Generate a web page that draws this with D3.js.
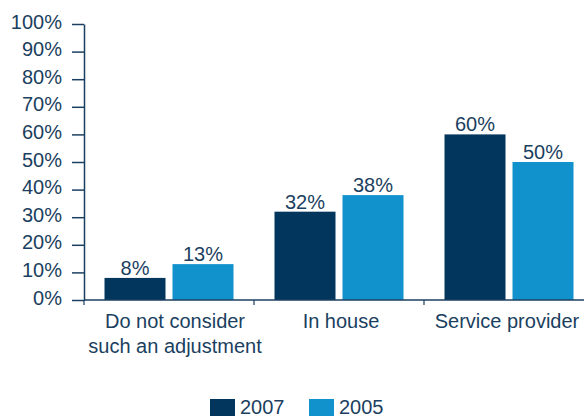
<!DOCTYPE html>
<html>
<head>
<meta charset="utf-8">
<script src="https://cdn.jsdelivr.net/npm/d3@7"></script>
<style>
  html, body { margin: 0; padding: 0; background: #fff; }
  svg { display: block; font-family: "Liberation Sans", Arial, Helvetica, sans-serif; }
</style>
</head>
<body>
<svg id="chart" width="584" height="419"></svg>
<script>
const categories = [["Do not consider", "such an adjustment"], ["In house"], ["Service provider"]];
const seriesNames = ["2007", "2005"];
const values2007 = [8, 32, 60];
const values2005 = [13, 38, 50];
const yTicks = [0, 10, 20, 30, 40, 50, 60, 70, 80, 90, 100];
const colors = ["#02365c", "#1192cc"];

const textColor = "#1b3f60";
const axisColor = "#1b3f60";

const svg = d3.select("#chart");
const plotLeft = 84, plotRight = 594, plotTop = 24, plotBottom = 300;

const x = d3.scaleBand().domain(d3.range(categories.length)).range([plotLeft, plotRight]);
const xInner = d3.scaleBand().domain(seriesNames).range([0, x.bandwidth()])
  .paddingInner(0.103).paddingOuter(0.3015);
// category captions sit on a slightly narrower band than the bars
const xLabel = d3.scaleBand().domain(d3.range(categories.length)).range([plotLeft + 8, plotRight - 4]);
const y = d3.scaleLinear().domain([0, 100]).range([plotBottom, plotTop]);

const series = [values2007, values2005];

// bars
const groups = svg.append("g").selectAll("g")
  .data(categories.map((c, i) => i))
  .join("g")
  .attr("transform", i => `translate(${x(i)},0)`);

groups.selectAll("rect")
  .data(i => seriesNames.map((s, k) => ({ s, k, v: series[k][i] })))
  .join("rect")
  .attr("x", d => xInner(d.s))
  .attr("y", d => y(d.v))
  .attr("width", xInner.bandwidth())
  .attr("height", d => y(0) - y(d.v))
  .attr("fill", d => colors[d.k]);

groups.selectAll("text.val")
  .data(i => seriesNames.map((s, k) => ({ s, k, v: series[k][i] })))
  .join("text")
  .attr("class", "val")
  .attr("x", d => xInner(d.s) + xInner.bandwidth() / 2)
  .attr("y", d => y(d.v) - 3)
  .attr("text-anchor", "middle")
  .attr("font-size", 20)
  .attr("fill", textColor)
  .text(d => d.v + "%");

// y axis
const yAxis = svg.append("g").attr("transform", `translate(${plotLeft},0)`)
  .call(d3.axisLeft(y).tickValues(yTicks).tickFormat(d => d + "%").tickSize(12).tickSizeOuter(0).tickPadding(10));
yAxis.select(".domain").attr("stroke", axisColor).attr("stroke-width", 1.5);
yAxis.selectAll(".tick line").attr("stroke", axisColor).attr("stroke-width", 1.5);
yAxis.selectAll(".tick text")
  .attr("font-size", 20)
  .attr("font-family", "Liberation Sans, Arial, sans-serif")
  .attr("fill", textColor)
  .attr("dy", "0.2em");

// x axis
const xAxis = svg.append("g").attr("transform", `translate(0,${plotBottom})`);
xAxis.append("line")
  .attr("x1", plotLeft).attr("x2", 584)
  .attr("stroke", axisColor).attr("stroke-width", 1.5);
xAxis.selectAll("line.tick")
  .data(d3.range(categories.length))
  .join("line")
  .attr("class", "tick")
  .attr("x1", i => x(i)).attr("x2", i => x(i))
  .attr("y1", 0).attr("y2", 5)
  .attr("stroke", axisColor).attr("stroke-width", 1.2);

const catLabels = xAxis.selectAll("text.cat")
  .data(categories)
  .join("text")
  .attr("class", "cat")
  .attr("x", (d, i) => xLabel(i) + xLabel.bandwidth() / 2)
  .attr("y", 28)
  .attr("text-anchor", "middle")
  .attr("font-size", 20)
  .attr("fill", textColor);
catLabels.selectAll("tspan")
  .data(d => d)
  .join("tspan")
  .attr("x", function () { return this.parentNode.getAttribute("x"); })
  .attr("dy", (d, j) => j === 0 ? 0 : 25)
  .text(d => d);

// legend
const legendX = [210, 309];
const legend = svg.append("g").selectAll("g")
  .data(seriesNames)
  .join("g")
  .attr("transform", (d, i) => `translate(${legendX[i]},399)`);
legend.append("rect")
  .attr("width", 25).attr("height", 17)
  .attr("fill", (d, i) => colors[i]);
legend.append("text")
  .attr("x", 30).attr("y", 15)
  .attr("font-size", 20)
  .attr("fill", textColor)
  .text(d => d);
</script>
</body>
</html>
